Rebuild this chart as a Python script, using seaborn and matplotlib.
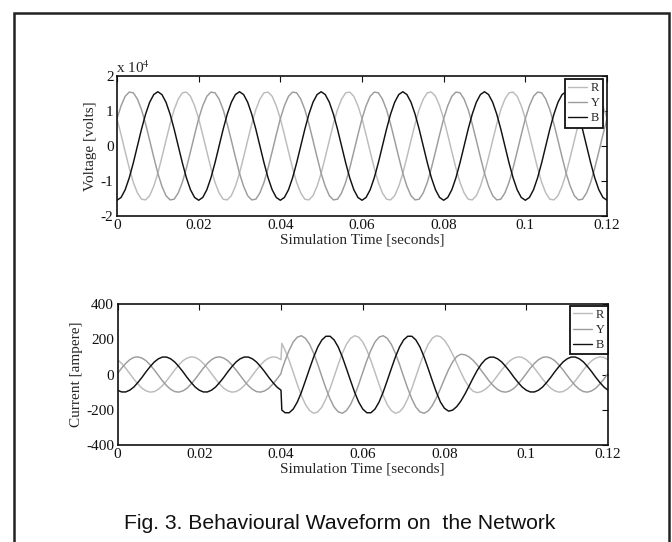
import numpy as np
import pandas as pd
import seaborn as sns
from matplotlib import pyplot as plt
from matplotlib.patches import Rectangle

sns.set_style("white")
plt.rcParams['font.family'] = ['Liberation Serif', 'DejaVu Serif']
plt.rcParams['mathtext.fontset'] = 'stix'

PHASES = ["R", "Y", "B"]
COLORS = {"R": "#bcbcbc", "Y": "#9c9c9c", "B": "#111111"}

# sample times in milliseconds
voltage_time_ms = list(range(0, 121))
current_time_ms = list(range(0, 41)) + [40.2] + list(range(41, 121))

# phase voltages, in units of 10^4 volts (1 ms samples)
r_voltage = [
    0.78, 0.32, -0.16, -0.63, -1.04, -1.34, -1.52, -1.54, -1.42, -1.15, -0.78, -0.32, 0.16, 0.63, 1.04, 1.34, 1.52, 1.54, 1.42, 1.15,
    0.78, 0.32, -0.16, -0.63, -1.04, -1.34, -1.52, -1.54, -1.42, -1.15, -0.78, -0.32, 0.16, 0.63, 1.04, 1.34, 1.52, 1.54, 1.42, 1.15,
    0.78, 0.32, -0.16, -0.63, -1.04, -1.34, -1.52, -1.54, -1.42, -1.15, -0.78, -0.32, 0.16, 0.63, 1.04, 1.34, 1.52, 1.54, 1.42, 1.15,
    0.78, 0.32, -0.16, -0.63, -1.04, -1.34, -1.52, -1.54, -1.42, -1.15, -0.78, -0.32, 0.16, 0.63, 1.04, 1.34, 1.52, 1.54, 1.42, 1.15,
    0.78, 0.32, -0.16, -0.63, -1.04, -1.34, -1.52, -1.54, -1.42, -1.15, -0.78, -0.32, 0.16, 0.63, 1.04, 1.34, 1.52, 1.54, 1.42, 1.15,
    0.78, 0.32, -0.16, -0.63, -1.04, -1.34, -1.52, -1.54, -1.42, -1.15, -0.78, -0.32, 0.16, 0.63, 1.04, 1.34, 1.52, 1.54, 1.42, 1.15,
    0.78]
y_voltage = [
    0.78, 1.15, 1.42, 1.54, 1.52, 1.34, 1.04, 0.63, 0.16, -0.32, -0.78, -1.15, -1.42, -1.54, -1.52, -1.34, -1.04, -0.63, -0.16, 0.32,
    0.78, 1.15, 1.42, 1.54, 1.52, 1.34, 1.04, 0.63, 0.16, -0.32, -0.78, -1.15, -1.42, -1.54, -1.52, -1.34, -1.04, -0.63, -0.16, 0.32,
    0.78, 1.15, 1.42, 1.54, 1.52, 1.34, 1.04, 0.63, 0.16, -0.32, -0.78, -1.15, -1.42, -1.54, -1.52, -1.34, -1.04, -0.63, -0.16, 0.32,
    0.78, 1.15, 1.42, 1.54, 1.52, 1.34, 1.04, 0.63, 0.16, -0.32, -0.78, -1.15, -1.42, -1.54, -1.52, -1.34, -1.04, -0.63, -0.16, 0.32,
    0.78, 1.15, 1.42, 1.54, 1.52, 1.34, 1.04, 0.63, 0.16, -0.32, -0.78, -1.15, -1.42, -1.54, -1.52, -1.34, -1.04, -0.63, -0.16, 0.32,
    0.78, 1.15, 1.42, 1.54, 1.52, 1.34, 1.04, 0.63, 0.16, -0.32, -0.78, -1.15, -1.42, -1.54, -1.52, -1.34, -1.04, -0.63, -0.16, 0.32,
    0.78]
b_voltage = [
    -1.55, -1.47, -1.25, -0.91, -0.48, 0.00, 0.48, 0.91, 1.25, 1.47, 1.55, 1.47, 1.25, 0.91, 0.48, 0.00, -0.48, -0.91, -1.25, -1.47,
    -1.55, -1.47, -1.25, -0.91, -0.48, 0.00, 0.48, 0.91, 1.25, 1.47, 1.55, 1.47, 1.25, 0.91, 0.48, 0.00, -0.48, -0.91, -1.25, -1.47,
    -1.55, -1.47, -1.25, -0.91, -0.48, 0.00, 0.48, 0.91, 1.25, 1.47, 1.55, 1.47, 1.25, 0.91, 0.48, 0.00, -0.48, -0.91, -1.25, -1.47,
    -1.55, -1.47, -1.25, -0.91, -0.48, 0.00, 0.48, 0.91, 1.25, 1.47, 1.55, 1.47, 1.25, 0.91, 0.48, 0.00, -0.48, -0.91, -1.25, -1.47,
    -1.55, -1.47, -1.25, -0.91, -0.48, 0.00, 0.48, 0.91, 1.25, 1.47, 1.55, 1.47, 1.25, 0.91, 0.48, 0.00, -0.48, -0.91, -1.25, -1.47,
    -1.55, -1.47, -1.25, -0.91, -0.48, 0.00, 0.48, 0.91, 1.25, 1.47, 1.55, 1.47, 1.25, 0.91, 0.48, 0.00, -0.48, -0.91, -1.25, -1.47,
    -1.55]

# line currents in ampere (fault between 0.04 s and ~0.08 s)
r_current = [
    84, 63, 36, 5, -26, -54, -78, -93, -100, -97, -84, -63, -36, -5, 26, 54, 78, 93, 100, 97,
    84, 63, 36, 5, -26, -54, -78, -93, -100, -97, -84, -63, -36, -5, 26, 54, 78, 93, 100, 97,
    84, 177,
    138, 79, 12, -57, -120, -171, -205, -220, -212, -185, -138, -79, -12, 57, 120, 171, 205, 220, 212,
    185, 138, 79, 12, -57, -120, -171, -205, -220, -212, -185, -138, -79, -12, 57, 120, 171, 205, 220,
    215, 194, 159, 114, 64, 13, -34, -71, -95, -103,
    -97, -84, -63, -36, -5, 26, 54, 78, 93, 100, 97,
    84, 63, 36, 5, -26, -54, -78, -93, -100, -97, -84, -63, -36, -5, 26, 54, 78, 93, 100, 97,
    84]
y_current = [
    5, 36, 63, 84, 97, 100, 93, 78, 54, 26, -5, -36, -63, -84, -97, -100, -93, -78, -54, -26,
    5, 36, 63, 84, 97, 100, 93, 78, 54, 26, -5, -36, -63, -84, -97, -100, -93, -78, -54, -26,
    5, 26,
    79, 138, 185, 212, 220, 205, 171, 120, 57, -12, -79, -138, -185, -212, -220, -205, -171, -120, -57,
    12, 79, 138, 185, 212, 220, 205, 171, 120, 57, -12, -79, -138, -185, -212,
    -220, -207, -177, -133, -81, -25, 28, 72, 102, 115, 112, 100, 80, 54, 23, -8, -39, -65, -85, -97,
    -100, -93, -78, -54, -26,
    5, 36, 63, 84, 97, 100, 93, 78, 54, 26, -5, -36, -63, -84, -97, -100, -93, -78, -54, -26,
    5]
b_current = [
    -89, -99, -99, -89, -71, -45, -16, 16, 45, 71, 89, 99, 99, 89, 71, 45, 16, -16, -45, -71,
    -89, -99, -99, -89, -71, -45, -16, 16, 45, 71, 89, 99, 99, 89, 71, 45, 16, -16, -45, -71,
    -89, -202,
    -217, -217, -196, -156, -100, -34, 34, 100, 156, 196, 217, 217, 196, 156, 100, 34, -34, -100, -156,
    -196, -217, -217, -196, -156, -100, -34, 34, 100, 156, 196, 217, 217, 196, 156, 100, 34, -34, -100, -156,
    -192, -208, -202, -182, -151, -111, -66, -20, 23, 59, 85, 98,
    99, 89, 71, 45, 16, -16, -45, -71,
    -89, -99, -99, -89, -71, -45, -16, 16, 45, 71, 89, 99, 99, 89, 71, 45, 16, -16, -45, -71,
    -89]

FS = 11


def longForm(timeMs, series):
    frames = []
    for phase, values in zip(PHASES, series):
        frames.append(pd.DataFrame({"time": np.array(timeMs) / 1000.0, "value": values, "phase": phase}))
    return pd.concat(frames, ignore_index=True)


def styleAxes(ax):
    ax.set_xlim(0, 0.12)
    ax.set_xticks([0, 0.02, 0.04, 0.06, 0.08, 0.1, 0.12])
    ax.set_xticklabels(["0", "0.02", "0.04", "0.06", "0.08", "0.1", "0.12"])
    ax.tick_params(direction="in", top=True, right=True, length=4, width=0.8,
                   labelsize=FS, pad=2.5, colors="#111111")
    for s in ax.spines.values():
        s.set_color("#111111")
        s.set_linewidth(1.2)
    ax.set_xlabel("Simulation Time [seconds]", fontsize=FS, labelpad=1)


def plotPanel(ax, df, anchor):
    sns.lineplot(data=df, x="time", y="value", hue="phase", hue_order=PHASES,
                 palette=COLORS, estimator=None, linewidth=1.05, ax=ax)
    old = ax.get_legend()
    handles, labels = old.legend_handles, [t.get_text() for t in old.texts]
    old.remove()
    leg = ax.legend(handles, labels, loc="upper right", bbox_to_anchor=anchor,
                    fontsize=9, frameon=True, fancybox=False, framealpha=1,
                    edgecolor="#111111", borderpad=0.25, labelspacing=0.25,
                    handlelength=1.5, handletextpad=0.3, borderaxespad=0)
    leg.get_frame().set_linewidth(1.3)
    for h in leg.legend_handles:
        h.set_linewidth(1.0)
    styleAxes(ax)


fig = plt.figure(figsize=(6.72, 5.42), dpi=100)

axTop = fig.add_axes([117 / 672, 1 - 216 / 542, 490 / 672, 140 / 542])
plotPanel(axTop, longForm(voltage_time_ms, [r_voltage, y_voltage, b_voltage]), (0.991, 0.978))
axTop.set_ylim(-2, 2)
axTop.set_yticks([-2, -1, 0, 1, 2])
axTop.set_yticklabels(["-2", "-1", "0", "1", "2"])
axTop.set_ylabel("Voltage [volts]", fontsize=FS, labelpad=3)
fig.text(116 / 672, 1 - 73 / 542, r"x 10$^{4}$", fontsize=FS, ha="left", va="baseline")

axBot = fig.add_axes([117.5 / 672, 1 - 445 / 542, 490.5 / 672, 141 / 542])
plotPanel(axBot, longForm(current_time_ms, [r_current, y_current, b_current]), (0.999, 0.988))
axBot.set_ylim(-400, 400)
axBot.set_yticks([-400, -200, 0, 200, 400])
axBot.set_yticklabels(["-400", "-200", "0", "200", "400"])
axBot.set_ylabel("Current [ampere]", fontsize=FS, labelpad=2)

fig.text(340 / 672, 1 - 529 / 542, "Fig. 3. Behavioural Waveform on  the Network",
         fontsize=15.2, family=["Liberation Sans", "DejaVu Sans"], ha="center", va="baseline",
         color="#111111")

fig.add_artist(Rectangle((14 / 672, -0.1), 655 / 672, 1.1 - 13 / 542, transform=fig.transFigure,
                         fill=False, edgecolor="#222222", linewidth=1.8))

fig.savefig("out.png", dpi=100)
